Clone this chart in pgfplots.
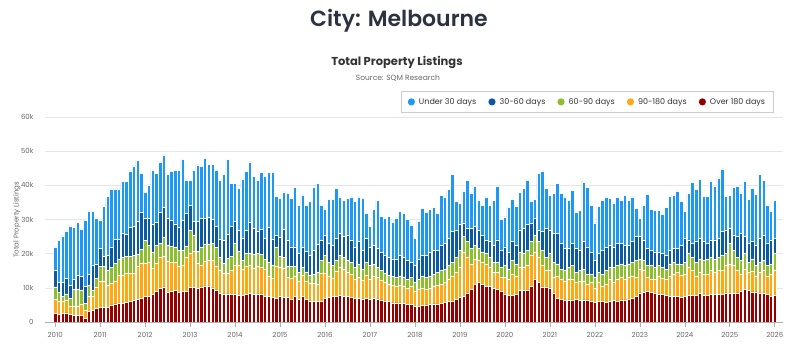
\documentclass[border=0pt]{standalone}
\usepackage{fontspec}
\setmainfont{Poppins}
\newfontfamily\titlefont{Poppins SemiBold}
\usepackage{pgfplots}
\usepackage{pgfplotstable}
\pgfplotsset{compat=1.18}
\definecolor{lblue}{HTML}{1E98F5}
\definecolor{dkblue}{HTML}{0C5AA3}
\definecolor{grn}{HTML}{8DBE2D}
\definecolor{orng}{HTML}{FFA812}
\definecolor{dred}{HTML}{960000}
\definecolor{titlec}{HTML}{2B3240}
\definecolor{textc}{HTML}{333333}
\definecolor{tickc}{HTML}{666666}
\definecolor{gridc}{HTML}{E6E6E6}
\definecolor{axisc}{HTML}{B0B0B0}
\definecolor{legc}{HTML}{CCCCCC}
\pgfplotstableread{
i T D G O R
0 22.0 15.2 10.3 6.6 2.5
1 23.8 11.5 8.6 6.1 2.3
2 25.2 11.5 7.4 6.0 2.5
3 26.7 12.8 8.2 6.4 2.7
4 28.1 10.8 6.9 4.7 2.3
5 27.7 12.6 9.6 4.5 2.0
6 29.1 13.8 9.6 4.7 2.0
7 27.1 13.5 9.4 5.3 1.9
8 29.7 10.5 5.5 3.5 1.1
9 32.5 14.0 10.8 7.4 3.0
10 32.3 16.7 9.4 7.4 3.5
11 30.5 16.9 12.8 10.3 4.0
12 29.7 21.5 16.2 11.8 4.2
13 34.0 19.3 16.2 11.9 4.2
14 36.7 19.6 15.0 10.8 4.3
15 39.0 22.0 16.0 11.3 5.0
16 39.0 24.2 17.2 11.8 5.3
17 39.0 24.2 18.3 13.6 5.4
18 41.1 26.1 18.9 13.8 5.5
19 41.1 25.7 19.3 14.4 5.7
20 44.2 27.6 19.3 14.4 6.0
21 45.7 28.1 19.6 14.4 6.4
22 47.4 29.4 19.9 16.2 6.6
23 43.5 32.0 21.3 17.2 6.9
24 37.9 30.5 23.8 17.2 7.4
25 40.1 30.3 22.5 17.4 7.6
26 44.5 28.7 20.3 15.7 8.1
27 43.5 29.1 22.5 17.2 8.9
28 46.9 32.0 23.0 18.9 9.9
29 48.9 33.6 24.8 19.3 10.3
30 43.3 30.3 22.5 17.7 8.6
31 44.0 29.9 22.2 17.5 8.9
32 44.3 28.7 22.0 17.5 9.2
33 44.3 27.7 20.9 16.2 8.6
34 47.6 29.7 21.1 16.7 8.9
35 41.6 31.8 22.2 18.9 8.9
36 41.4 34.2 26.9 20.1 10.1
37 44.3 29.4 25.5 20.6 10.1
38 46.0 29.4 20.6 17.2 9.9
39 45.5 30.3 22.0 16.7 10.3
40 47.9 30.3 22.8 17.7 10.6
41 46.2 30.6 22.8 18.2 10.6
42 46.2 30.0 23.0 18.0 10.0
43 44.5 27.9 21.9 16.2 9.4
44 41.4 24.2 18.9 15.2 8.4
45 43.3 23.8 17.2 14.4 8.2
46 47.6 25.8 18.6 14.2 8.2
47 40.6 27.9 19.1 15.0 8.1
48 40.6 29.4 23.0 16.7 8.2
49 39.1 26.9 20.6 16.7 7.7
50 41.8 24.5 18.1 15.4 7.7
51 44.0 26.9 20.1 16.2 8.1
52 46.9 29.1 20.1 16.7 8.4
53 42.7 27.3 19.9 15.7 8.1
54 41.4 26.7 20.1 16.2 8.2
55 43.9 27.1 19.9 16.0 8.2
56 42.7 24.5 18.3 15.4 7.6
57 43.7 27.8 17.4 13.3 7.4
58 43.7 24.2 16.7 12.8 7.2
59 36.7 25.5 22.0 16.2 6.9
60 36.2 24.8 19.3 16.0 7.4
61 38.1 27.1 18.9 15.7 7.2
62 37.7 24.0 16.4 13.1 7.2
63 36.2 22.0 16.2 12.8 6.6
64 39.4 22.0 16.2 13.3 7.4
65 34.2 20.1 14.7 11.8 6.6
66 37.2 22.0 16.0 13.8 7.4
67 34.2 20.6 14.7 11.8 6.7
68 35.2 19.6 13.8 11.3 6.2
69 39.4 21.1 14.0 11.3 6.1
70 40.6 22.8 14.7 11.1 6.1
71 34.2 23.8 18.1 14.2 6.1
72 33.0 25.5 19.5 14.4 7.0
73 35.9 23.0 17.5 13.5 7.2
74 35.9 22.5 16.5 12.8 7.4
75 39.1 24.5 18.2 14.8 7.6
76 36.6 26.0 19.5 16.0 7.8
77 35.7 25.0 19.0 15.5 7.6
78 36.2 25.5 18.0 14.5 7.4
79 36.6 24.0 17.5 14.0 7.2
80 35.2 22.0 16.0 12.5 7.0
81 36.6 23.5 16.8 13.0 7.0
82 36.2 21.0 15.5 12.2 6.8
83 31.8 24.5 17.5 13.8 7.0
84 27.9 22.0 16.5 12.5 6.8
85 33.0 22.5 16.8 13.5 6.9
86 35.5 21.5 16.0 13.0 6.8
87 31.0 20.5 15.0 12.3 6.5
88 30.3 19.5 14.2 11.5 6.2
89 31.0 19.0 13.8 11.0 6.0
90 29.3 18.5 13.3 10.8 5.6
91 30.5 18.5 13.0 10.5 5.6
92 32.4 19.5 13.5 10.8 5.6
93 31.8 19.0 13.2 10.5 5.5
94 30.0 18.0 12.6 10.0 5.2
95 28.4 17.5 13.0 10.5 5.2
96 24.5 16.5 11.5 9.0 4.6
97 29.5 18.5 12.5 9.5 4.7
98 33.2 19.5 13.5 10.0 4.8
99 32.0 19.5 13.0 9.5 5.0
100 32.9 20.5 13.5 10.0 5.2
101 33.5 21.0 14.0 10.5 5.3
102 31.8 21.0 14.5 10.8 5.3
103 37.1 22.5 15.0 11.0 5.5
104 36.6 23.0 15.5 11.5 5.8
105 38.8 24.5 16.5 12.5 6.0
106 43.3 26.5 17.5 13.5 6.2
107 35.2 27.0 19.0 14.5 6.6
108 34.7 28.5 21.0 16.0 7.2
109 38.4 29.0 25.0 20.3 7.6
110 41.5 27.5 23.5 19.0 8.5
111 37.8 27.5 21.5 17.0 9.5
112 39.6 28.0 22.5 18.5 11.0
113 35.7 27.0 21.5 18.0 11.5
114 34.2 25.5 20.5 17.5 11.0
115 36.6 24.0 20.0 17.0 10.5
116 34.2 23.5 19.0 16.0 10.5
117 35.7 22.5 17.5 14.5 9.8
118 39.6 24.0 17.5 14.5 9.5
119 30.0 21.0 16.0 13.0 9.0
120 30.8 22.0 16.5 13.0 8.2
121 33.6 20.5 15.5 12.5 7.8
122 35.8 23.5 18.0 14.0 7.8
123 34.0 22.5 17.0 13.5 8.2
124 38.0 27.0 20.5 16.0 9.2
125 39.1 27.5 20.0 16.0 9.2
126 41.4 28.5 21.0 16.5 9.2
127 35.2 29.0 23.5 19.5 10.5
128 36.0 30.5 25.5 20.5 12.6
129 43.6 27.0 23.5 19.0 11.5
130 44.2 26.5 21.0 16.5 10.3
131 39.1 27.5 19.0 15.0 10.2
132 37.1 27.0 20.0 15.0 10.0
133 37.6 26.0 17.5 13.0 8.5
134 40.5 26.0 17.0 13.5 7.0
135 37.7 23.0 15.5 12.5 6.6
136 36.6 21.5 15.0 12.0 6.5
137 35.5 21.5 16.0 12.5 6.5
138 38.5 23.0 16.5 12.5 6.5
139 32.0 21.5 14.5 11.5 6.6
140 32.7 21.0 15.0 12.0 6.3
141 41.0 23.5 15.5 12.0 6.5
142 39.4 22.0 14.0 11.0 6.5
143 34.2 20.5 14.0 11.5 6.2
144 29.0 18.0 13.0 10.0 5.8
145 33.9 20.0 14.5 11.5 6.0
146 35.7 21.0 14.0 10.5 6.0
147 36.6 22.0 15.0 11.0 5.8
148 36.2 22.5 16.0 12.5 6.0
149 34.9 22.0 16.0 11.5 6.3
150 36.4 23.0 16.5 12.5 6.2
151 35.7 23.0 17.0 13.0 6.5
152 37.1 22.5 16.5 12.5 6.5
153 35.7 22.5 17.0 13.0 6.8
154 36.6 23.5 17.5 13.5 7.0
155 33.2 25.0 18.0 13.0 7.5
156 30.3 25.0 18.5 15.5 8.5
157 34.2 24.0 18.0 15.0 8.7
158 37.4 21.5 16.5 13.0 9.0
159 32.9 21.0 16.5 12.5 8.7
160 32.7 20.5 16.0 12.5 8.5
161 32.7 20.5 16.5 13.5 8.2
162 31.6 20.0 16.0 12.8 8.0
163 33.5 19.5 15.5 12.5 7.8
164 36.8 21.0 17.0 13.5 7.6
165 37.1 21.5 17.5 14.0 7.5
166 38.4 21.5 17.0 14.5 7.6
167 35.2 22.5 16.8 13.8 7.3
168 32.3 24.5 17.5 14.0 7.5
169 37.7 24.0 20.0 16.0 7.8
170 40.8 23.0 19.0 15.0 7.8
171 38.8 23.5 17.5 13.5 7.8
172 41.8 24.5 18.5 14.5 8.3
173 36.7 23.5 18.0 14.0 7.8
174 36.7 23.0 18.5 14.0 7.8
175 41.3 24.0 19.0 15.0 8.0
176 39.8 24.0 18.5 14.5 8.0
177 42.2 24.5 19.0 15.0 8.0
178 44.8 26.5 19.5 15.0 8.0
179 36.7 27.0 20.0 16.5 8.5
180 37.1 27.5 23.0 17.0 8.5
181 39.4 25.5 21.0 16.5 8.3
182 39.8 25.0 19.0 15.0 8.5
183 37.8 26.0 18.0 14.0 9.0
184 41.2 25.0 20.0 15.5 9.6
185 35.9 23.0 17.5 14.5 9.2
186 39.1 23.5 18.5 14.8 8.8
187 37.4 22.5 16.5 13.5 8.8
188 43.3 24.5 17.5 14.5 8.5
189 41.4 25.5 18.0 15.0 8.5
190 34.2 23.0 16.5 13.5 8.0
191 32.5 24.0 17.0 14.0 7.6
192 35.7 24.5 20.0 15.0 7.8
}\data
\begin{document}
\begin{tikzpicture}
\path[use as bounding box] (0pt,0pt) rectangle (800pt,-352pt);
\node[anchor=base, font=\titlefont\fontsize{22}{26}\selectfont, text=titlec] at (399pt,-27pt) {City: Melbourne};
\node[anchor=base, font=\bfseries\fontsize{11.5}{14}\selectfont, text=textc] at (397pt,-66pt) {Total Property Listings};
\node[anchor=base, font=\fontsize{7.5}{9}\selectfont, text=tickc] at (398pt,-81pt) {Source: SQM Research};
\node[rotate=90, font=\fontsize{7}{9}\selectfont, text=tickc] at (17pt,-220pt) {Total Property Listings};
\begin{axis}[
  at={(45pt,-322pt)}, anchor=south west,
  scale only axis, width=738pt, height=205pt,
  xmin=-2.7, xmax=194.2, ymin=0, ymax=60,
  ybar, bar shift=0pt, bar width=3.4pt,
  legend image code/.code={\fill[#1,draw=none] (2pt,0pt) circle (3.6pt);},
  axis x line*=bottom, axis y line*=left,
  x axis line style={draw=axisc, line width=0.8pt},
  y axis line style={draw=none},
  ymajorgrids, grid style={draw=gridc, line width=0.6pt},
  ytick={0,10,20,30,40,50,60},
  yticklabels={0,10k,20k,30k,40k,50k,60k},
  ytick style={draw=none},
  xtick={0,12,24,36,48,60,72,84,96,108,120,132,144,156,168,180,192},
  xticklabels={2010,2011,2012,2013,2014,2015,2016,2017,2018,2019,2020,2021,2022,2023,2024,2025,2026},
  tick align=outside, major tick length=5pt,
  xtick style={draw=axisc, line width=0.6pt},
  tick label style={font=\fontsize{7}{8}\selectfont, text=tickc},
  yticklabel style={xshift=-3pt},
  xticklabel style={yshift=-2pt},
  legend style={at={(0.987,1.02)}, anchor=south east, legend columns=5,
    draw=legc, line width=0.6pt, font=\fontsize{8}{10}\selectfont, text=textc,
    inner xsep=6pt, inner ysep=5pt,
    /tikz/every odd column/.append style={column sep=2pt},
    /tikz/every even column/.append style={column sep=10pt}},
  legend cell align=left,
]
\addplot[fill=lblue, draw=white, line width=0.5pt] table[x=i,y=T]{\data};
\addlegendentry{Under 30 days}
\addplot[fill=dkblue, draw=white, line width=0.5pt] table[x=i,y=D]{\data};
\addlegendentry{30-60 days}
\addplot[fill=grn, draw=white, line width=0.5pt] table[x=i,y=G]{\data};
\addlegendentry{60-90 days}
\addplot[fill=orng, draw=white, line width=0.5pt] table[x=i,y=O]{\data};
\addlegendentry{90-180 days}
\addplot[fill=dred, draw=white, line width=0.5pt] table[x=i,y=R]{\data};
\addlegendentry{Over 180 days}
\end{axis}
\end{tikzpicture}
\end{document}
